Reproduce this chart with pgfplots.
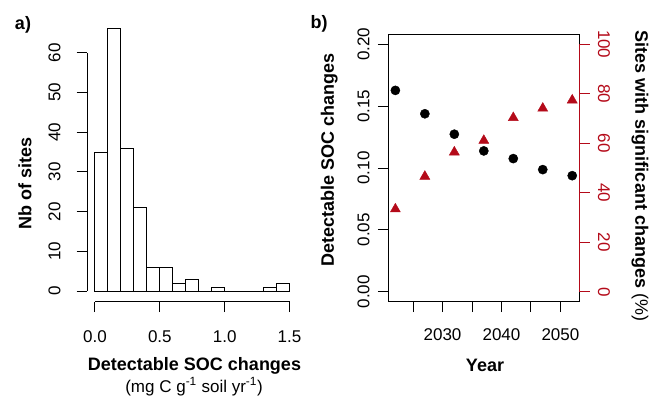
\documentclass[border=0pt]{standalone}
\usepackage{pgfplots}
\pgfplotsset{compat=1.18}
\usepackage{fontspec}
\setmainfont{Liberation Sans}
\definecolor{myred}{RGB}{180,10,25}
\newcommand{\tfont}{\fontsize{17}{20}\selectfont}
\newcommand{\lfont}{\fontsize{18}{21}\selectfont\bfseries}
\begin{document}
\begin{tikzpicture}[x=1pt,y=1pt]
\useasboundingbox (0,0) rectangle (650,399);
% ---------------- panel a ----------------
\begin{axis}[
  at={(87.2pt,97.5pt)}, anchor=south west, scale only axis,
  width=210.1pt, height=283pt,
  xmin=-0.06, xmax=1.56, ymin=-2.64, ymax=68.64,
  axis line style={draw=none},
  tick align=outside, major tick length=10.5pt,
  xtick={0,0.5,1,1.5}, xticklabels={0.0,0.5,1.0,1.5},
  ytick={0,10,...,60},
  xtick pos=left, ytick pos=left,
  tick style={black, line width=1pt},
  /pgf/number format/assume math mode=true,
  every tick label/.append style={font=\tfont},
  xticklabel style={anchor=center, yshift=-24.7pt},
  yticklabel style={xshift=-22.2pt, anchor=center, rotate=90},
  clip=false,
]
\addplot[ybar interval, fill=white, draw=black, line width=1pt] coordinates {
(0.0,35) (0.1,66) (0.2,36) (0.3,21) (0.4,6) (0.5,6) (0.6,2) (0.7,3)
(0.8,0) (0.9,1) (1.0,0) (1.1,0) (1.2,0) (1.3,1) (1.4,2) (1.5,2)};
\draw[line width=1pt] (axis cs:0,-2.64) -- (axis cs:1.5,-2.64);
\draw[line width=1pt] (axis cs:-0.06,0) -- (axis cs:-0.06,60);
\end{axis}
% ---------------- panel b (left axis) ----------------
\begin{axis}[
  at={(388.3pt,97.3pt)}, anchor=south west, scale only axis,
  width=191pt, height=267.4pt,
  xmin=2020.8, xmax=2053.2, ymin=-0.008, ymax=0.208,
  axis line style={line width=1pt},
  tick align=outside, major tick length=10.5pt,
  xtick={2025,2030,...,2050}, xticklabels={,2030,,2040,,2050},
  ytick={0,0.05,...,0.2}, yticklabels={0.00,0.05,0.10,0.15,0.20},
  xtick pos=left, ytick pos=left,
  tick style={black, line width=1pt},
  /pgf/number format/assume math mode=true,
  every tick label/.append style={font=\tfont},
  xticklabel style={anchor=center, yshift=-22.8pt},
  yticklabel style={xshift=-14.3pt, anchor=center, rotate=90},
  clip=false,
]
\addplot[only marks, mark=*, mark size=4.6pt, black] coordinates {
(2022,0.1627) (2027,0.1438) (2032,0.1273) (2037,0.1138) (2042,0.1076) (2047,0.0987) (2052,0.0938)};
\end{axis}
% ---------------- panel b (right axis) ----------------
\begin{axis}[
  at={(388.3pt,97.3pt)}, anchor=south west, scale only axis,
  width=191pt, height=267.4pt,
  xmin=2020.8, xmax=2053.2, ymin=-4, ymax=104,
  hide x axis,
  axis line style={draw=none},
  tick align=outside, major tick length=10.5pt,
  ytick={0,20,...,100},
  ytick pos=right,
  tick style={myred, line width=0.8pt},
  /pgf/number format/assume math mode=true,
  every tick label/.append style={font=\tfont},
  yticklabel style={xshift=14.2pt, anchor=center, rotate=-90, text=myred},
  clip=false,
]
\draw[myred, line width=0.8pt] (axis cs:2053.2,0) -- (axis cs:2053.2,100);
\addplot[only marks, mark=triangle*, mark size=5.8pt, myred] coordinates {
(2022,33.4) (2027,46.6) (2032,56.4) (2037,61.1) (2042,70.3) (2047,74.1) (2052,77.4)};
\end{axis}
% ---------------- labels ----------------
\node[font=\lfont] at (23,374) {a)};
\node[font=\lfont] at (319,375) {b)};
\node[font=\lfont, rotate=90] at (25,216) {Nb of sites};
\node[font=\lfont] at (194.5,33) {Detectable SOC changes};
\node[font=\tfont] at (194,12.3) {(mg C g\textsuperscript{-1} soil yr\textsuperscript{-1})};
\node[font=\lfont, rotate=90] at (329.3,239) {Detectable SOC changes};
\node[font=\lfont] at (485,34) {Year};
\node[font=\lfont, rotate=-90] at (640,223) {Sites with significant changes {\mdseries(\%)}};
\end{tikzpicture}
\end{document}
